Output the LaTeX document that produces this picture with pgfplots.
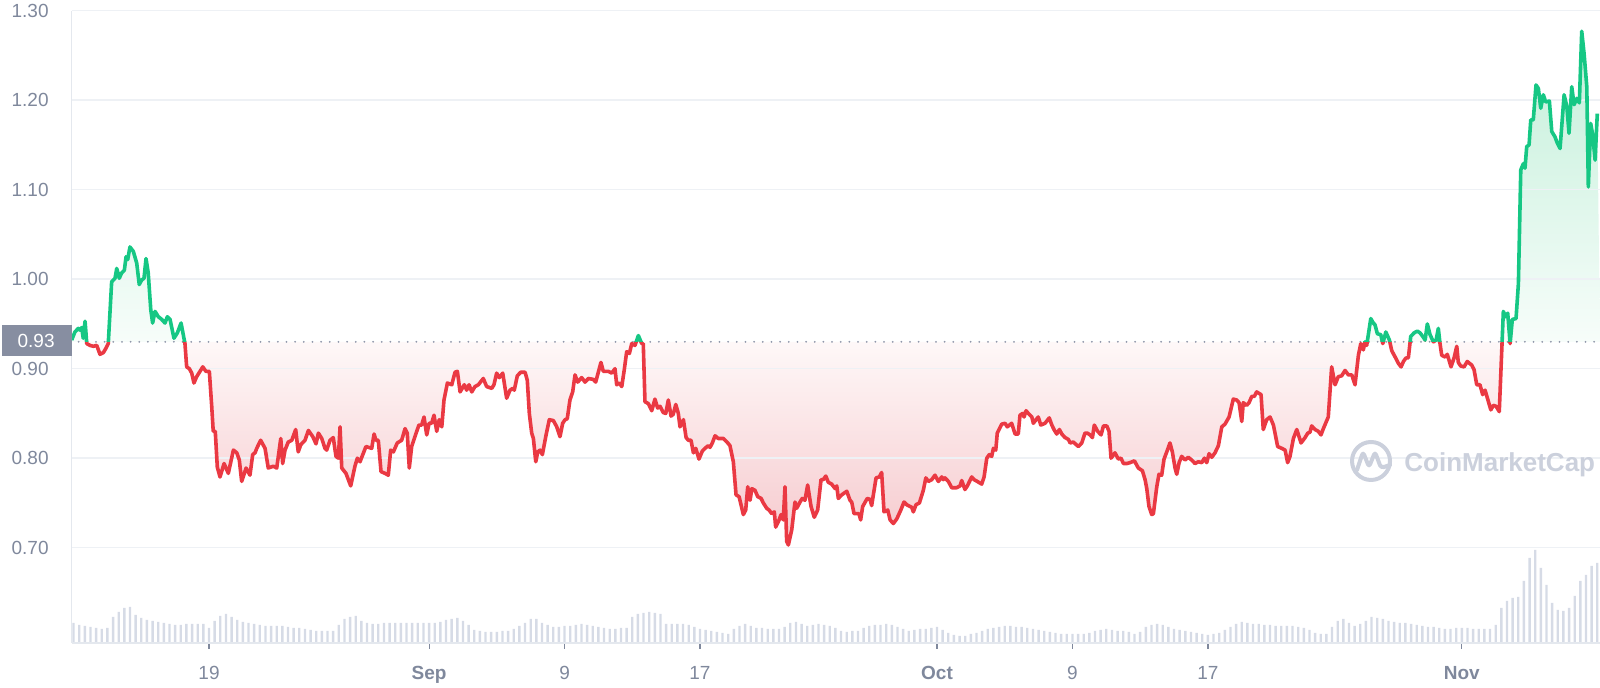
\documentclass[border=0pt]{standalone}
\usepackage{pgfplots}
\pgfplotsset{compat=1.18}
\usepackage{pgfplotstable}
\usepackage{fontspec}
\setmainfont{Liberation Sans}
\definecolor{cmcred}{HTML}{EA3943}
\definecolor{cmcgreen}{HTML}{16C784}
\definecolor{labcol}{HTML}{7F889C}
\definecolor{gridcol}{HTML}{EEF1F5}
\definecolor{axcol}{HTML}{E4E8EE}
\definecolor{volcol}{HTML}{D6DBE6}
\definecolor{boxcol}{HTML}{878EA1}
\definecolor{wmcol}{HTML}{CBD0DC}
\definecolor{dotcol}{HTML}{9097AA}
\definecolor{redtop}{HTML}{FEF8F8}
\definecolor{redbot}{HTML}{F6C9CD}
\definecolor{greentop}{HTML}{C2EFD9}
\definecolor{greenbot}{HTML}{F7FDFA}

\pgfplotstableread{
d p
-8.11 0.932
-7.92 0.941
-7.72 0.945
-7.62 0.943
-7.52 0.946
-7.43 0.934
-7.32 0.953
-7.22 0.928
-7.03 0.926
-6.83 0.925
-6.63 0.926
-6.44 0.916
-6.24 0.918
-6.08 0.923
-5.95 0.928
-5.75 0.997
-5.55 1.001
-5.45 1.012
-5.30 1.001
-5.16 1.007
-5.00 1.010
-4.90 1.025
-4.80 1.022
-4.67 1.036
-4.47 1.031
-4.27 1.018
-4.12 0.994
-3.98 0.999
-3.84 1.001
-3.72 1.023
-3.59 1.007
-3.44 0.966
-3.33 0.951
-3.19 0.964
-2.99 0.958
-2.79 0.955
-2.60 0.951
-2.46 0.958
-2.30 0.955
-2.07 0.934
-1.87 0.940
-1.65 0.951
-1.42 0.928
-1.32 0.902
-1.16 0.900
-1.02 0.895
-0.89 0.884
-0.73 0.891
-0.53 0.897
-0.37 0.902
-0.18 0.897
0.02 0.897
0.16 0.858
0.25 0.830
0.37 0.830
0.49 0.790
0.65 0.779
0.89 0.794
1.14 0.783
1.44 0.809
1.64 0.806
1.79 0.798
1.93 0.774
2.19 0.789
2.42 0.781
2.58 0.804
2.72 0.806
2.82 0.811
3.05 0.820
3.31 0.811
3.50 0.789
3.80 0.791
4.00 0.789
4.24 0.822
4.35 0.794
4.49 0.809
4.68 0.818
4.89 0.820
5.12 0.832
5.27 0.807
5.42 0.815
5.67 0.820
5.87 0.831
6.13 0.824
6.32 0.816
6.46 0.828
6.66 0.822
6.85 0.811
6.95 0.809
7.15 0.820
7.34 0.823
7.50 0.802
7.64 0.800
7.74 0.835
7.84 0.789
8.09 0.783
8.37 0.769
8.62 0.791
8.76 0.800
8.92 0.796
9.27 0.813
9.61 0.811
9.75 0.827
9.86 0.820
10.00 0.820
10.16 0.785
10.40 0.783
10.59 0.781
10.73 0.809
10.89 0.807
11.12 0.817
11.38 0.820
11.58 0.833
11.71 0.828
11.83 0.789
11.97 0.813
12.27 0.830
12.40 0.837
12.56 0.837
12.70 0.846
12.86 0.826
13.00 0.839
13.15 0.839
13.29 0.848
13.45 0.830
13.60 0.843
13.75 0.835
13.88 0.865
14.08 0.884
14.34 0.882
14.53 0.896
14.67 0.897
14.83 0.874
15.08 0.882
15.22 0.876
15.36 0.882
15.52 0.874
15.71 0.880
15.91 0.882
16.20 0.889
16.40 0.880
16.70 0.878
16.83 0.882
16.99 0.895
17.15 0.890
17.35 0.895
17.58 0.867
17.78 0.876
17.94 0.878
18.03 0.876
18.21 0.892
18.41 0.896
18.67 0.896
18.80 0.887
18.92 0.850
19.06 0.828
19.16 0.822
19.30 0.796
19.42 0.807
19.55 0.809
19.69 0.804
19.91 0.826
20.10 0.843
20.34 0.842
20.54 0.835
20.73 0.824
20.89 0.839
21.03 0.843
21.16 0.844
21.32 0.865
21.48 0.874
21.62 0.893
21.78 0.885
22.01 0.890
22.21 0.885
22.41 0.889
22.70 0.888
22.84 0.885
23.15 0.907
23.29 0.897
23.59 0.897
23.79 0.895
23.98 0.900
24.08 0.882
24.24 0.884
24.38 0.880
24.53 0.899
24.67 0.919
24.83 0.917
24.97 0.928
25.16 0.926
25.36 0.937
25.56 0.928
25.65 0.928
25.75 0.863
25.95 0.861
26.15 0.853
26.34 0.866
26.50 0.856
26.64 0.858
26.83 0.851
26.98 0.850
27.13 0.865
27.29 0.847
27.42 0.849
27.57 0.860
27.72 0.850
27.82 0.835
28.02 0.843
28.18 0.823
28.31 0.820
28.47 0.820
28.61 0.806
28.75 0.811
28.94 0.799
29.14 0.808
29.30 0.811
29.49 0.814
29.59 0.812
29.73 0.817
29.89 0.825
30.08 0.822
30.38 0.822
30.64 0.817
30.77 0.814
30.97 0.796
31.13 0.759
31.31 0.757
31.56 0.737
31.70 0.742
31.82 0.768
31.96 0.753
32.06 0.766
32.25 0.764
32.41 0.757
32.61 0.755
32.74 0.750
32.94 0.744
33.08 0.742
33.24 0.738
33.39 0.740
33.47 0.723
33.63 0.729
33.79 0.737
33.92 0.731
34.02 0.768
34.12 0.707
34.22 0.703
34.42 0.720
34.61 0.751
34.71 0.744
34.91 0.751
35.04 0.755
35.20 0.753
35.36 0.770
35.56 0.746
35.75 0.734
35.95 0.742
36.15 0.776
36.28 0.776
36.43 0.780
36.58 0.773
36.78 0.771
36.98 0.766
37.08 0.769
37.17 0.755
37.37 0.759
37.67 0.763
37.86 0.753
37.96 0.751
38.10 0.738
38.26 0.738
38.39 0.738
38.49 0.731
38.61 0.746
38.88 0.755
39.04 0.754
39.14 0.747
39.40 0.778
39.59 0.779
39.73 0.784
39.87 0.740
40.09 0.742
40.23 0.731
40.42 0.727
40.62 0.732
40.86 0.742
41.05 0.751
41.21 0.748
41.51 0.745
41.60 0.740
41.76 0.748
41.96 0.750
42.19 0.764
42.34 0.778
42.49 0.774
42.69 0.776
42.88 0.781
43.08 0.774
43.28 0.779
43.37 0.776
43.47 0.778
43.67 0.774
43.87 0.767
44.16 0.767
44.36 0.769
44.46 0.775
44.65 0.765
44.79 0.769
45.05 0.779
45.19 0.776
45.38 0.774
45.64 0.771
45.78 0.779
45.94 0.800
46.09 0.804
46.23 0.802
46.33 0.811
46.47 0.809
46.56 0.828
46.82 0.838
47.02 0.839
47.15 0.835
47.41 0.839
47.61 0.827
47.80 0.827
47.90 0.848
48.06 0.850
48.14 0.846
48.26 0.853
48.39 0.850
48.60 0.846
48.69 0.839
48.85 0.843
48.98 0.846
49.13 0.837
49.38 0.839
49.63 0.845
49.78 0.837
49.91 0.832
50.07 0.827
50.23 0.832
50.37 0.827
50.56 0.823
50.76 0.821
50.86 0.817
51.05 0.818
51.35 0.813
51.55 0.817
51.74 0.828
51.88 0.828
52.04 0.826
52.18 0.823
52.29 0.837
52.49 0.830
52.69 0.826
52.83 0.836
53.03 0.836
53.16 0.830
53.28 0.800
53.51 0.806
53.71 0.799
53.87 0.800
54.01 0.794
54.21 0.794
54.40 0.795
54.66 0.797
54.89 0.789
55.13 0.786
55.29 0.776
55.39 0.766
55.52 0.746
55.68 0.737
55.78 0.738
55.98 0.768
56.11 0.782
56.27 0.781
56.41 0.799
56.57 0.807
56.76 0.817
56.90 0.807
57.06 0.789
57.16 0.782
57.30 0.795
57.45 0.802
57.65 0.798
57.84 0.801
58.04 0.798
58.24 0.794
58.43 0.796
58.64 0.795
58.79 0.800
58.93 0.795
59.07 0.805
59.23 0.801
59.42 0.806
59.62 0.814
59.82 0.835
60.01 0.838
60.25 0.846
60.50 0.866
60.70 0.865
60.84 0.862
61.00 0.841
61.09 0.862
61.29 0.859
61.43 0.862
61.59 0.869
61.74 0.869
61.88 0.874
62.14 0.871
62.27 0.832
62.47 0.843
62.67 0.846
62.87 0.837
63.12 0.813
63.36 0.811
63.56 0.809
63.71 0.795
63.85 0.802
64.05 0.822
64.25 0.832
64.50 0.817
64.74 0.823
64.90 0.828
65.03 0.829
65.13 0.836
65.33 0.832
65.52 0.830
65.68 0.826
65.82 0.833
66.11 0.846
66.31 0.902
66.51 0.882
66.70 0.891
66.90 0.892
67.10 0.898
67.30 0.893
67.50 0.893
67.69 0.882
67.89 0.915
68.03 0.928
68.18 0.921
68.28 0.930
68.38 0.926
68.62 0.956
68.77 0.951
68.87 0.949
69.01 0.939
69.21 0.938
69.33 0.928
69.51 0.941
69.72 0.932
69.86 0.920
70.06 0.913
70.25 0.906
70.41 0.902
70.55 0.908
70.70 0.912
70.84 0.912
70.98 0.936
71.18 0.940
71.37 0.942
71.53 0.940
71.69 0.936
71.83 0.932
71.96 0.950
72.12 0.938
72.32 0.930
72.48 0.932
72.61 0.945
72.71 0.928
72.81 0.915
73.01 0.913
73.14 0.916
73.36 0.902
73.54 0.912
73.70 0.925
73.79 0.907
73.93 0.903
74.13 0.902
74.32 0.908
74.58 0.904
74.72 0.899
74.88 0.882
75.07 0.882
75.23 0.871
75.37 0.876
75.51 0.867
75.71 0.854
75.86 0.859
76.02 0.858
76.21 0.852
76.45 0.964
76.59 0.958
76.71 0.962
76.85 0.928
76.98 0.955
77.20 0.956
77.34 0.995
77.48 1.122
77.63 1.129
77.73 1.124
77.83 1.148
77.97 1.150
78.07 1.178
78.22 1.178
78.38 1.217
78.52 1.213
78.66 1.191
78.81 1.206
78.95 1.198
79.17 1.199
79.31 1.165
79.50 1.159
79.64 1.152
79.80 1.146
80.04 1.206
80.20 1.193
80.33 1.163
80.49 1.215
80.63 1.195
80.79 1.202
80.94 1.197
81.08 1.277
81.22 1.252
81.38 1.215
81.47 1.103
81.61 1.174
81.73 1.161
81.87 1.133
82.00 1.185
}\price

\newcommand{\lab}{\fontsize{9.5pt}{11pt}\selectfont}

\pgfplotsset{
  base/.style={
    at={(0pt,0pt)}, anchor=south west,
    scale only axis, width=764.15pt, height=316.15pt,
    xmin=-8.11, xmax=82.16, ymin=0.5935, ymax=1.30,
    enlargelimits=false,
  },
}

\begin{document}
\begin{tikzpicture}
\useasboundingbox (-35.85pt,-22.5pt) rectangle (764.15pt,321.5pt);

% volume bars
\begin{axis}[base, ymin=0, ymax=632.3, hide axis]
\addplot[ybar, bar width=0.14, fill=volcol, draw=none]
 table[header=false, row sep=\\, x expr=\coordindex/3-8, y index=0]{
20\\18\\17\\ 16\\15\\14\\ 15\\26\\31\\ 35\\36\\28\\ 25\\23\\22\\
21\\20\\19\\ 18\\18\\19\\ 19\\19\\19\\ 15\\22\\27\\ 29\\26\\23\\
21\\20\\19\\ 18\\17\\17\\ 17\\17\\16\\ 15\\15\\14\\ 13\\12\\12\\
12\\12\\18\\ 24\\26\\27\\ 22\\20\\19\\ 19\\20\\20\\ 20\\20\\20\\
20\\20\\20\\ 20\\20\\21\\ 23\\24\\25\\ 22\\18\\13\\ 12\\11\\11\\
11\\12\\12\\ 14\\17\\20\\ 24\\24\\20\\ 18\\16\\16\\ 17\\17\\18\\
19\\18\\17\\ 16\\15\\14\\ 14\\15\\15\\ 26\\29\\30\\ 31\\30\\29\\
19\\19\\19\\ 19\\18\\16\\ 14\\13\\12\\ 11\\10\\9\\ 14\\17\\19\\
17\\15\\15\\ 14\\14\\14\\ 16\\20\\21\\ 19\\17\\18\\ 19\\18\\17\\
15\\12\\11\\ 12\\12\\15\\ 17\\18\\18\\ 19\\18\\16\\ 14\\12\\13\\
14\\14\\15\\ 16\\13\\10\\ 8\\7\\7\\ 9\\10\\12\\ 14\\15\\16\\
17\\17\\16\\ 16\\15\\14\\ 13\\12\\11\\ 10\\9\\9\\ 9\\9\\9\\
10\\12\\13\\ 14\\13\\12\\ 12\\11\\9\\ 11\\16\\18\\ 19\\18\\16\\
14\\13\\12\\ 11\\10\\9\\ 8\\9\\10\\ 13\\16\\19\\ 21\\20\\19\\
19\\18\\18\\ 17\\17\\17\\ 17\\16\\15\\ 13\\10\\9\\ 9\\16\\22\\
24\\20\\17\\ 19\\22\\26\\ 25\\24\\22\\ 21\\20\\20\\ 19\\18\\17\\
16\\16\\15\\ 14\\14\\15\\ 15\\15\\14\\ 14\\14\\14\\ 18\\35\\42\\
45\\46\\62\\ 85\\93\\75\\ 58\\40\\33\\ 32\\35\\47\\ 62\\68\\77\\
80\\
};
\end{axis}

% base axis: grid, labels, fills
\begin{axis}[base, axis on top,
  axis lines*=left,
  axis line style={axcol, line width=0.8pt},
  ymajorgrids, grid style={gridcol, line width=0.8pt},
  ytick={0.7,0.8,0.9,1.0,1.1,1.2,1.3},
  yticklabels={0.70,0.80,0.90,1.00,1.10,1.20,1.30},
  xtick={0,13,21,29,43,51,59,74},
  xticklabels={19,\textbf{Sep},9,17,\textbf{Oct},9,17,\textbf{Nov}},
  tick align=outside, major tick length=3pt,
  xtick style={draw=labcol, line width=0.6pt},
  ytick style={draw=none},
  tick label style={font=\lab, text=labcol, inner sep=0pt},
  yticklabel style={anchor=east, xshift=-8.35pt},
  xticklabel style={anchor=base, yshift=-15.5pt},
]
\addplot[draw=none, top color=redtop, bottom color=redbot,
  y filter/.expression={min(y,0.93)}]
  table[x=d, y=p]{\price} -- (axis cs:82.16,0.93) -- (axis cs:-8.11,0.93) -- cycle;
\addplot[draw=none, top color=greentop, bottom color=greenbot,
  y filter/.expression={max(y,0.93)}]
  table[x=d, y=p]{\price} -- (axis cs:82.16,0.93) -- (axis cs:-8.11,0.93) -- cycle;
\draw[dotcol, line width=1pt, dash pattern=on 0pt off 4.33pt, line cap=round]
  (axis cs:-7.7,0.93) -- (axis cs:82.16,0.93);
\end{axis}

% red part of the price line
\begin{scope}
\clip (-10pt,-10pt) rectangle (780pt,150.58pt);
\begin{axis}[base, hide axis]
\addplot[cmcred, line width=1.8pt, line join=round] table[x=d, y=p]{\price};
\end{axis}
\end{scope}

% green part of the price line
\begin{scope}
\clip (-10pt,150.58pt) rectangle (780pt,340pt);
\begin{axis}[base, hide axis]
\addplot[cmcgreen, line width=1.8pt, line join=round] table[x=d, y=p]{\price};
\end{axis}
\end{scope}

% decorations in pixel coordinates of the reference
\begin{scope}[shift={(-35.85pt,321.5pt)}, x=0.5pt, y=-0.5pt]
\fill[boxcol] (1.7,325) rectangle (71.7,356);
\node[anchor=east, inner sep=0pt, text=white, font=\lab] at (55,340.5) {0.93};
\draw[wmcol, line width=2pt] (1371,461) circle (19);
\draw[wmcol, line width=2pt, line join=round, line cap=round, rounded corners=1.5pt]
  (1357,470) -- (1363,452) -- (1369,467) -- (1375,452) -- (1381,468) -- (1390,465);
\node[anchor=base west, inner sep=0pt, text=wmcol, font=\fontsize{13pt}{15pt}\selectfont\bfseries]
  at (1404,472) {CoinMarketCap};
\end{scope}
\end{tikzpicture}
\end{document}
